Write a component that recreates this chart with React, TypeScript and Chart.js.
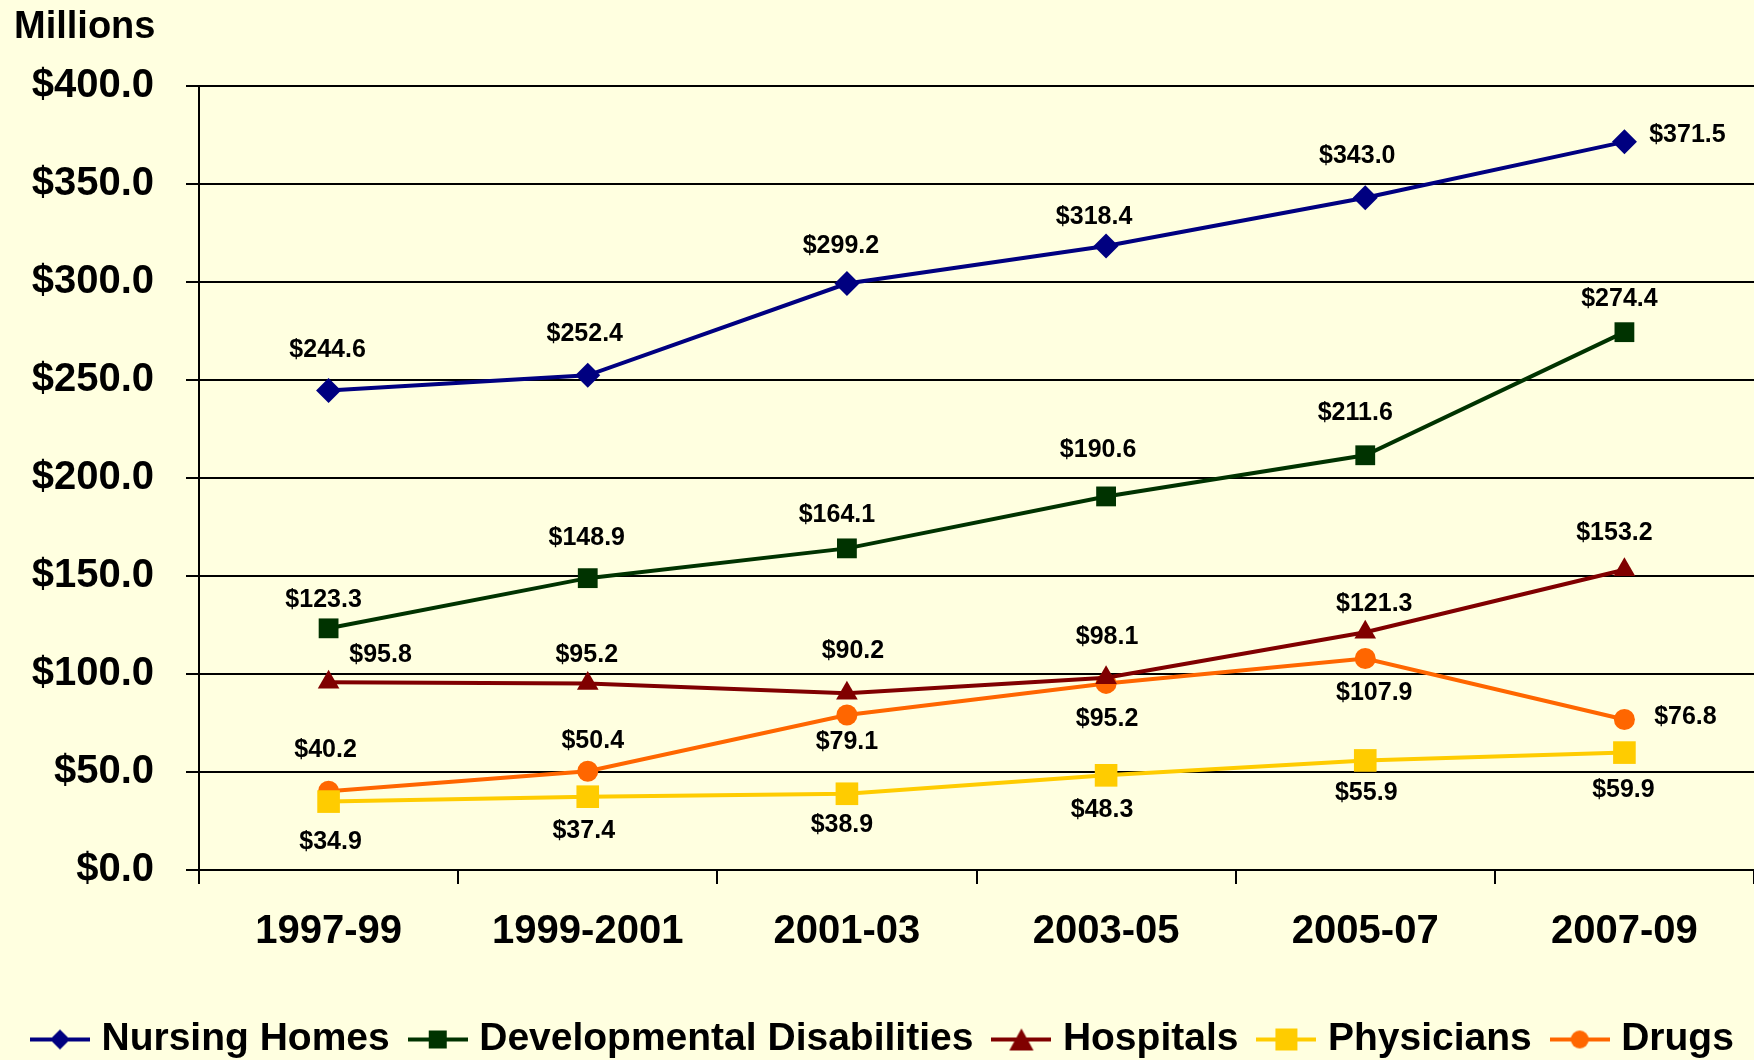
import React, { useEffect, useRef } from "react";
import { Chart, registerables } from "chart.js";

Chart.register(...registerables);

const categories = ["1997-99", "1999-2001", "2001-03", "2003-05", "2005-07", "2007-09"];
const seriesNames = ["Nursing Homes", "Developmental Disabilities", "Hospitals", "Physicians", "Drugs"];

const nursingHomes = [244.6, 252.4, 299.2, 318.4, 343.0, 371.5];
const developmentalDisabilities = [123.3, 148.9, 164.1, 190.6, 211.6, 274.4];
const hospitals = [95.8, 95.2, 90.2, 98.1, 121.3, 153.2];
const physicians = [34.9, 37.4, 38.9, 48.3, 55.9, 59.9];
const drugs = [40.2, 50.4, 79.1, 95.2, 107.9, 76.8];

const yTicks = [0, 50, 100, 150, 200, 250, 300, 350, 400];

// label offsets (px, relative to each point)
const nursingLabelOffsets = [[-1, -40], [-3, -41], [-6, -37], [-12, -29], [-8, -42], [63, -7]];
const ddLabelOffsets = [[-5, -28], [-1, -40], [-10, -33], [-8, -46], [-10, -42], [-5, -33]];
const hospLabelOffsets = [[52, -27], [-1, -28], [6, -42], [1, -41], [9, -28], [-10, -37]];
const physLabelOffsets = [[2, 41], [-4, 34], [-5, 31], [-4, 35], [1, 33], [-1, 38]];
const drugsLabelOffsets = [[-3, -41], [5, -30], [0, 27], [1, 36], [9, 35], [61, -2]];

const FONT = "'Liberation Sans', Arial, sans-serif";

function makeMarker(color: string, style: string, size: number): HTMLCanvasElement {
  const c = document.createElement("canvas");
  c.width = 60;
  c.height = 26;
  const ctx = c.getContext("2d")!;
  const cx = 30, cy = 13;
  ctx.strokeStyle = color;
  ctx.lineWidth = 4;
  ctx.beginPath();
  ctx.moveTo(0, cy);
  ctx.lineTo(60, cy);
  ctx.stroke();
  ctx.fillStyle = color;
  ctx.beginPath();
  if (style === "rectRot") {
    ctx.moveTo(cx, cy - size);
    ctx.lineTo(cx + size, cy);
    ctx.lineTo(cx, cy + size);
    ctx.lineTo(cx - size, cy);
    ctx.closePath();
  } else if (style === "rect") {
    ctx.rect(cx - size, cy - size, size * 2, size * 2);
  } else if (style === "triangle") {
    ctx.moveTo(cx, cy - size);
    ctx.lineTo(cx + size * 1.1, cy + size);
    ctx.lineTo(cx - size * 1.1, cy + size);
    ctx.closePath();
  } else {
    ctx.arc(cx, cy, size, 0, Math.PI * 2);
  }
  ctx.fill();
  return c;
}

export default function App() {
  const ref = useRef<HTMLCanvasElement | null>(null);

  useEffect(() => {
    document.body.style.margin = "0";
    Chart.defaults.font.family = FONT;
    const canvas = ref.current!;

    const colors = ["#000080", "#003300", "#800000", "#FFCC00", "#FF6600"];
    const styles = ["rectRot", "rect", "triangle", "rect", "circle"];
    const radii = [12.5, 14, 12.5, 16, 10.5];
    const legendSizes = [10, 9, 11, 11, 9];
    const values = [nursingHomes, developmentalDisabilities, hospitals, physicians, drugs];
    const offsets = [nursingLabelOffsets, ddLabelOffsets, hospLabelOffsets, physLabelOffsets, drugsLabelOffsets];
    const markers = colors.map((c, i) => makeMarker(c, styles[i], legendSizes[i]));

    const bgPlugin = {
      id: "bg",
      beforeDraw(chart: any) {
        const { ctx, width, height } = chart;
        ctx.save();
        ctx.fillStyle = "#FFFFE0";
        ctx.fillRect(0, 0, width, height);
        ctx.restore();
      },
    };

    const legendShift = {
      id: "legendShift",
      afterLayout(chart: any) {
        const lg = chart.legend;
        if (!lg) return;
        const dx = 12, dy = 9;
        lg.left += dx; lg.right += dx; lg.top += dy; lg.bottom += dy;
      },
    };

    const labelsPlugin = {
      id: "dataLabels",
      afterDatasetsDraw(chart: any) {
        const ctx = chart.ctx;
        ctx.save();
        ctx.font = `bold 25px ${FONT}`;
        ctx.fillStyle = "#000";
        ctx.textAlign = "center";
        ctx.textBaseline = "middle";
        chart.data.datasets.forEach((ds: any, di: number) => {
          const meta = chart.getDatasetMeta(di);
          meta.data.forEach((pt: any, i: number) => {
            const v = ds.data[i];
            const [dx, dy] = offsets[di][i];
            ctx.fillText("$" + v.toFixed(1), pt.x + dx, pt.y + dy);
          });
        });
        ctx.textAlign = "left";
        ctx.textBaseline = "alphabetic";
        ctx.font = `bold 38px ${FONT}`;
        ctx.fillText("Millions", 14, 38);
        ctx.restore();
      },
    };

    const chart = new Chart(canvas, {
      type: "line",
      data: {
        labels: categories,
        datasets: seriesNames.map((name, i) => ({
          label: name,
          data: values[i],
          borderColor: colors[i],
          backgroundColor: colors[i],
          pointBackgroundColor: colors[i],
          pointBorderColor: colors[i],
          pointBorderWidth: 0,
          borderWidth: 4,
          pointStyle: styles[i] as any,
          pointRadius: radii[i],
          pointHoverRadius: radii[i],
          tension: 0,
          fill: false,
        })),
      },
      options: {
        animation: false,
        responsive: false,
        devicePixelRatio: 1,
        events: [],
        layout: { autoPadding: false, padding: { top: 86, left: 0, right: 0, bottom: 0 } },
        plugins: {
          title: { display: false },
          tooltip: { enabled: false },
          legend: {
            display: true,
            position: "bottom",
            align: "start",
            labels: {
              usePointStyle: true,
              pointStyleWidth: 44,
              padding: 26,
              color: "#000",
              font: { size: 39, weight: "bold", family: FONT },
              generateLabels: (ch: any) =>
                ch.data.datasets.map((ds: any, i: number) => ({
                  text: ds.label,
                  pointStyle: markers[i],
                  fillStyle: colors[i],
                  strokeStyle: colors[i],
                  lineWidth: 0,
                  hidden: false,
                  datasetIndex: i,
                  fontColor: "#000",
                })),
            },
          },
        },
        scales: {
          x: {
            offset: true,
            grid: {
              display: true,
              drawOnChartArea: false,
              drawTicks: true,
              tickLength: 14,
              color: "#000",
              lineWidth: 2,
              offset: true,
            },
            border: { display: true, color: "#000", width: 2 },
            ticks: {
              color: "#000",
              font: { size: 40, weight: "bold", family: FONT },
              padding: 24,
              maxRotation: 0,
              autoSkip: false,
            },
            afterFit: (s: any) => {
              s.height = 115;
              s.paddingLeft = 0;
              s.paddingRight = 0;
            },
          },
          y: {
            min: 0,
            max: 400,
            afterBuildTicks: (s: any) => {
              s.ticks = yTicks.map((v) => ({ value: v }));
            },
            ticks: {
              color: "#000",
              font: { size: 40, weight: "bold", family: FONT },
              padding: 32,
              callback: (v: any) => "$" + Number(v).toFixed(1),
            },
            grid: { color: "#000", lineWidth: 2, tickLength: 13, drawTicks: true },
            border: { display: true, color: "#000", width: 2 },
            afterFit: (s: any) => {
              s.width = 199;
              s.paddingLeft = 0;
              s.paddingRight = 0;
            },
          },
        },
      },
      plugins: [bgPlugin, legendShift, labelsPlugin],
    });

    return () => chart.destroy();
  }, []);

  return (
    <div style={{ width: 1754, height: 1060 }}>
      <canvas ref={ref} width={1754} height={1060} style={{ display: "block" }} />
    </div>
  );
}
